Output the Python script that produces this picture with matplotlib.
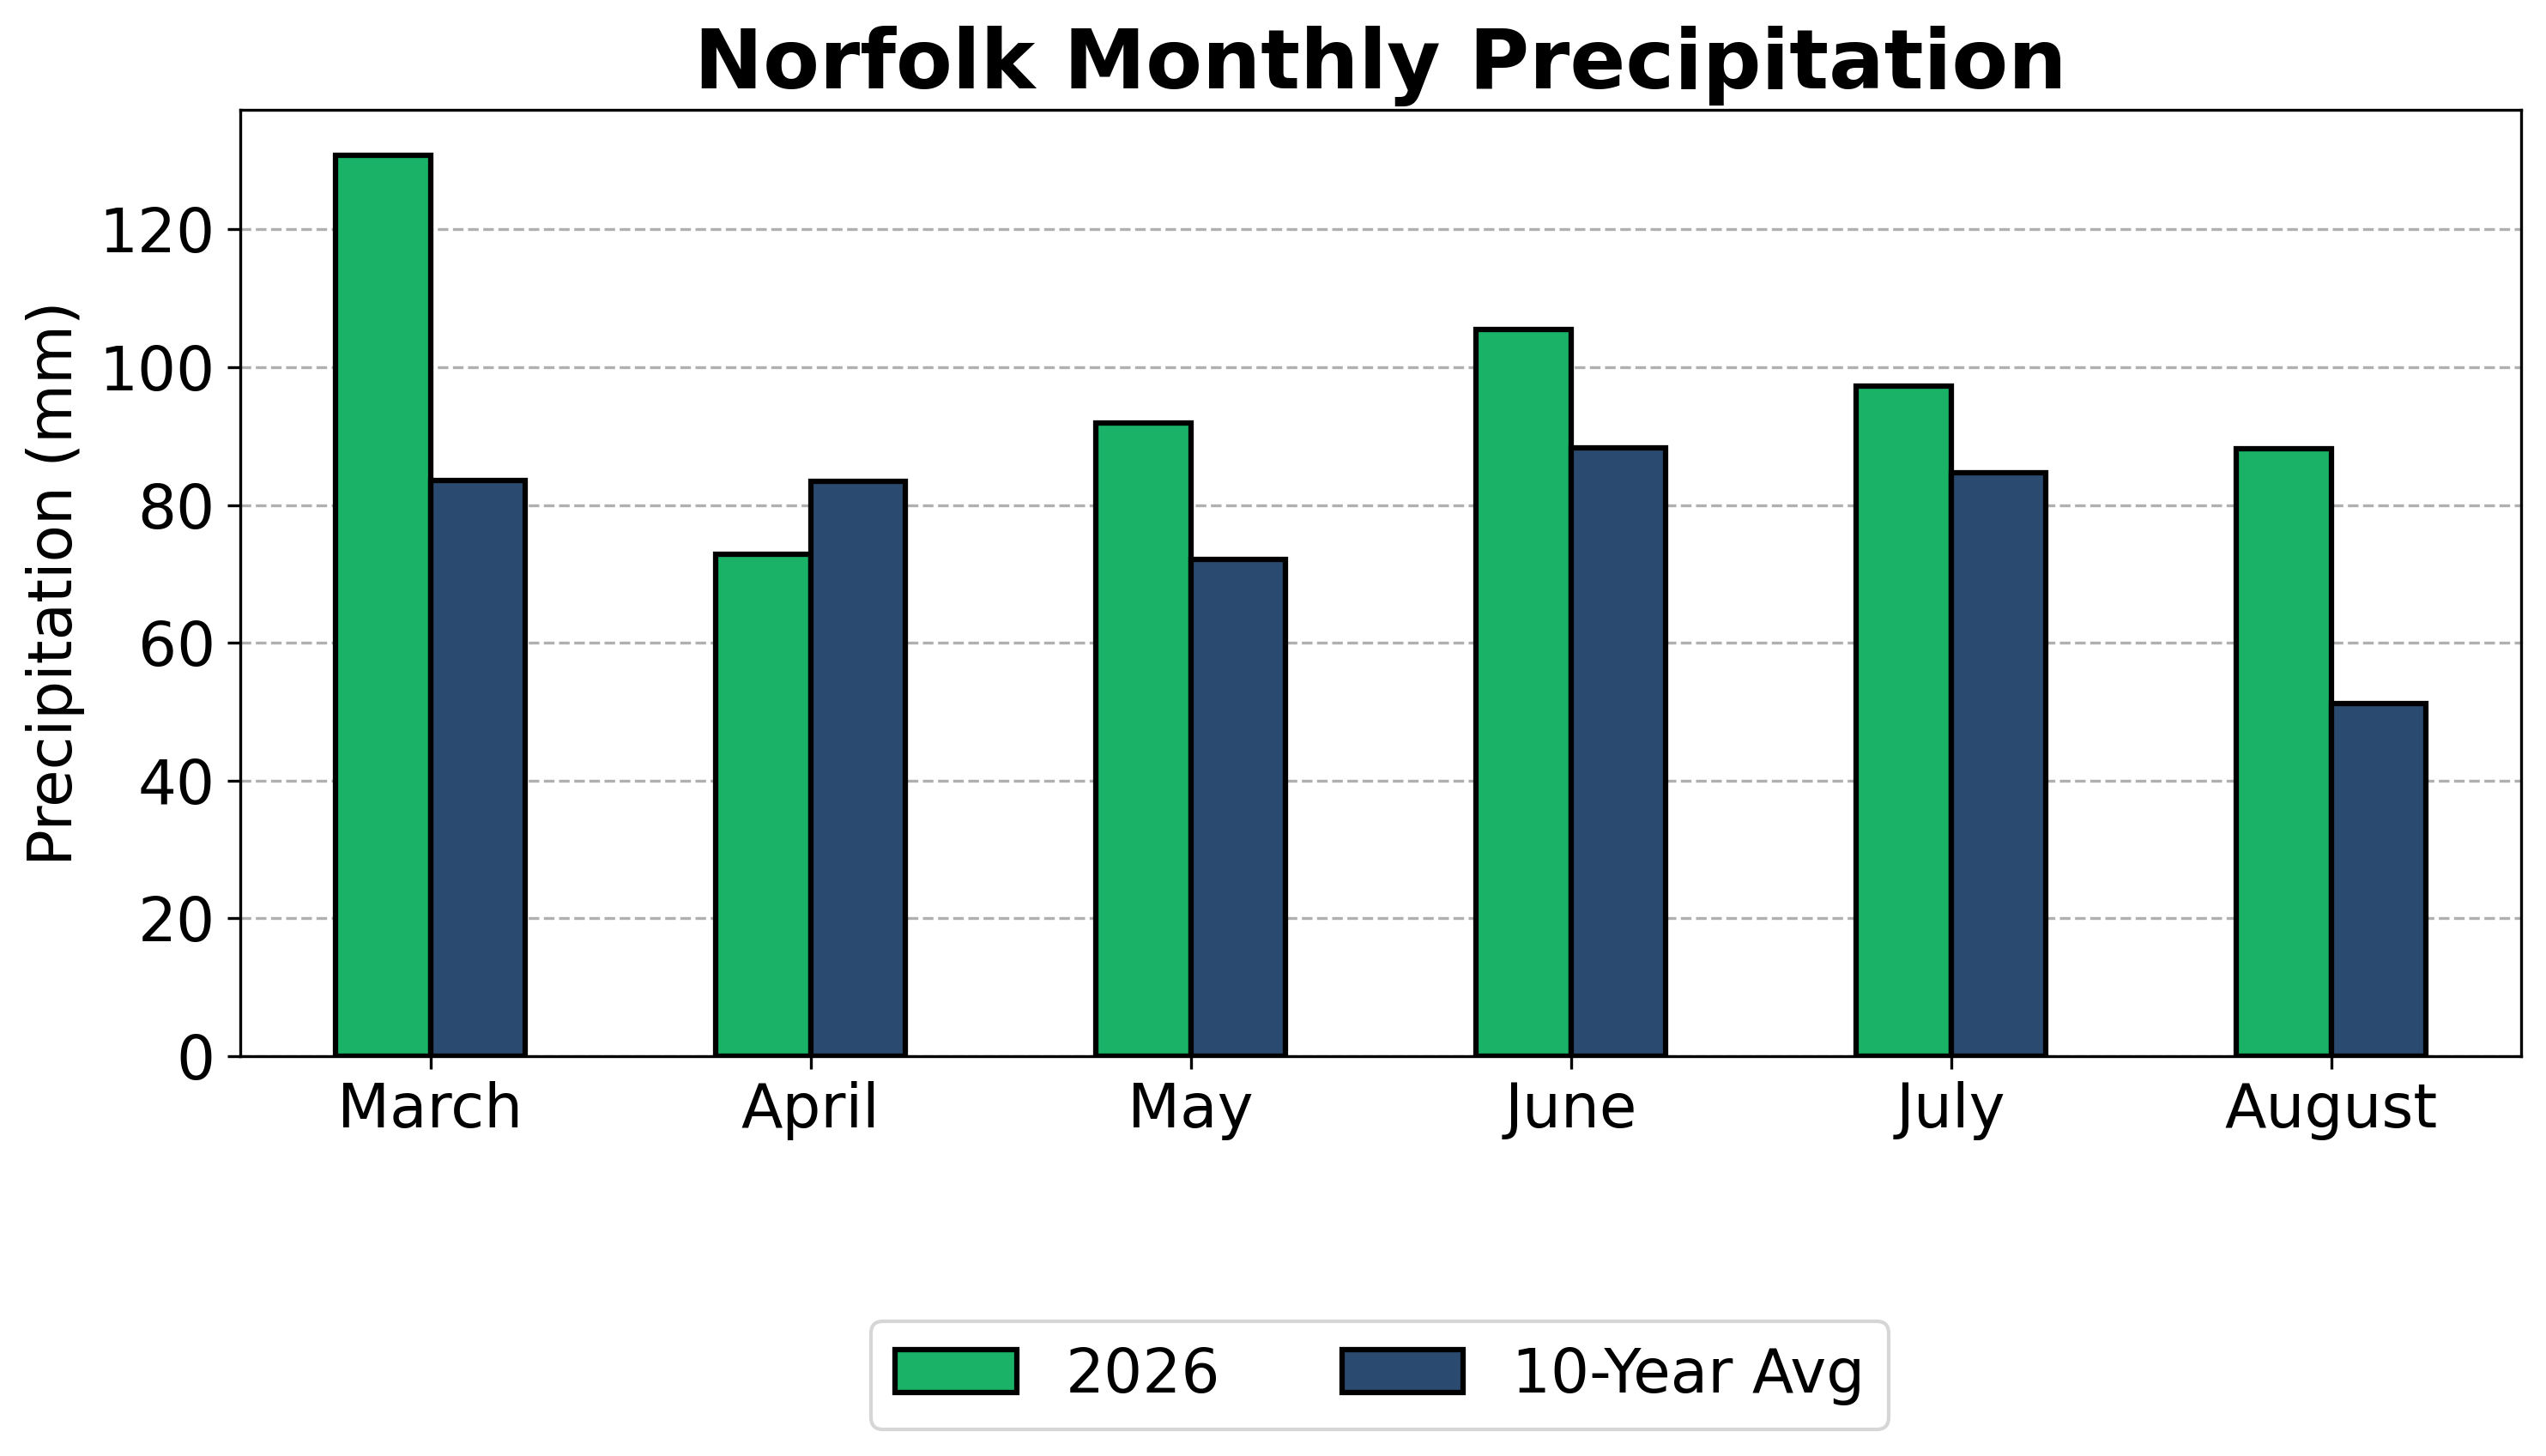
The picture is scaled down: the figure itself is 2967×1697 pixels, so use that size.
import matplotlib
matplotlib.use("Agg")
import matplotlib.pyplot as plt
import numpy as np

months = ["March", "April", "May", "June", "July", "August"]
precip_2026 = [130.8, 72.9, 91.9, 105.5, 97.2, 88.1]
precip_avg = [83.5, 83.4, 72.1, 88.3, 84.7, 51.2]
series_labels = ["2026", "10-Year Avg"]
colors = ["#19b266", "#2b4a6f"]

fig = plt.figure(figsize=(2967 / 300, 1697 / 300), dpi=300)
ax = fig.add_axes([280 / 2967, 1 - 1231 / 1697, (2938 - 280) / 2967, (1231 - 128) / 1697])

x = np.arange(len(months))
w = 0.25
b1 = ax.bar(x - w / 2, precip_2026, w, color=colors[0], edgecolor="black", linewidth=1.5,
            label=series_labels[0], zorder=3)
b2 = ax.bar(x + w / 2, precip_avg, w, color=colors[1], edgecolor="black", linewidth=1.5,
            label=series_labels[1], zorder=3)

ax.set_xlim(-0.5, len(months) - 0.5)
ax.set_xticks(x)
ax.set_xticklabels(months, fontsize=17)
ax.tick_params(axis="y", labelsize=17)
ax.set_ylabel("Precipitation (mm)", fontsize=17)
ax.yaxis.grid(True, linestyle="--", color="#b0b0b0", linewidth=0.8, zorder=0)
ax.set_axisbelow(True)

fig.text(1609 / 2967, 1 - 103 / 1697, "Norfolk Monthly Precipitation", fontsize=23,
         fontweight="bold", ha="center", va="baseline")

fig.legend(handles=[b1, b2], loc="center", bbox_to_anchor=(1608 / 2967, 94 / 1697),
           ncol=2, fontsize=17, frameon=True)

fig.savefig("out.png", dpi=300)
